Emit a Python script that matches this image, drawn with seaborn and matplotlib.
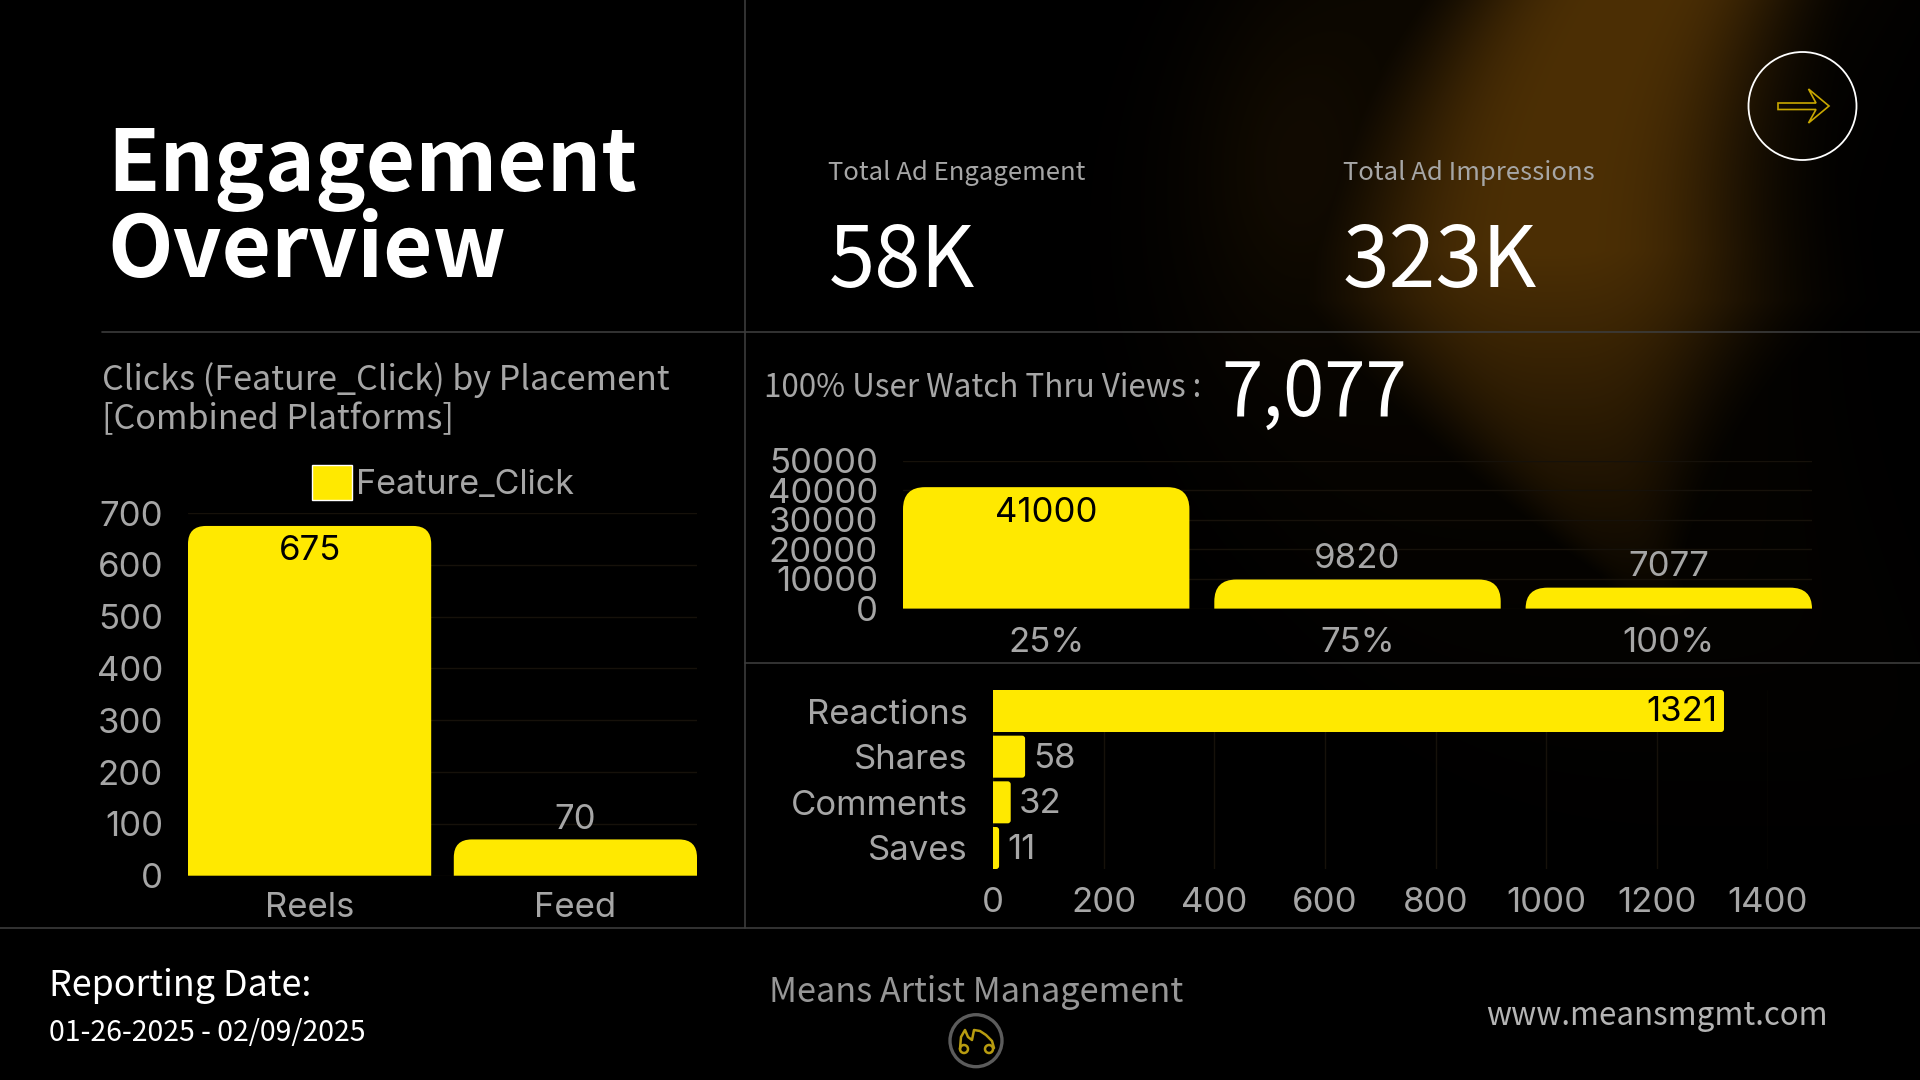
import numpy as np
import pandas as pd
import matplotlib
matplotlib.use('Agg')
import matplotlib.pyplot as plt
import seaborn as sns
from matplotlib.patches import Circle, PathPatch, Polygon
from matplotlib.path import Path

placement_names = ['Reels', 'Feed']
placement_clicks = [675, 70]

watch_names = ['25%', '75%', '100%']
watch_views = [41000, 9820, 7077]

action_names = ['Reactions', 'Shares', 'Comments', 'Saves']
action_counts = [1321, 58, 32, 11]

W, H = 1920, 1080
YELLOW = '#ffe900'
GREY = '#a6a6a6'
GRID = '#16110a'
BODY = ['Noto Sans CJK JP', 'DejaVu Sans']
TICK = 'Inter'
TICK_SIZE = 25

sns.set_theme(style='dark', rc={
    'figure.facecolor': 'black',
    'axes.facecolor': 'none',
    'axes.grid': True,
    'grid.color': GRID,
    'grid.linewidth': 1,
    'xtick.color': GREY,
    'ytick.color': GREY,
    'xtick.bottom': False,
    'ytick.left': False,
})
plt.rcParams['font.family'] = [TICK, 'DejaVu Sans']


def px_axes(fig, left, top, right, bottom):
    return fig.add_axes([left / W, 1 - bottom / H, (right - left) / W, (bottom - top) / H])


def round_bar(ax, bar, radius, horizontal=False):
    # swap a seaborn rectangle for one with rounded outer corners
    x0, y0, w, h = bar.get_x(), bar.get_y(), bar.get_width(), bar.get_height()
    sx = ax.transData.transform((1, 0))[0] - ax.transData.transform((0, 0))[0]
    sy = abs(ax.transData.transform((0, 1))[1] - ax.transData.transform((0, 0))[1])
    x1, y1 = x0 + w, y0 + h
    if horizontal:
        y0, y1 = min(y0, y1), max(y0, y1)
        rx = min(radius / sx, abs(w))
        ry = radius / sy
        verts = [(x0, y0), (x1 - rx, y0), (x1, y0), (x1, y0 + ry), (x1, y1 - ry),
                 (x1, y1), (x1 - rx, y1), (x0, y1), (x0, y0)]
    else:
        rx = radius / sx
        ry = min(radius / sy, h)
        verts = [(x0, y0), (x0, y1 - ry), (x0, y1), (x0 + rx, y1), (x1 - rx, y1),
                 (x1, y1), (x1, y1 - ry), (x1, y0), (x0, y0)]
    codes = [Path.MOVETO, Path.LINETO, Path.CURVE3, Path.CURVE3, Path.LINETO,
             Path.CURVE3, Path.CURVE3, Path.LINETO, Path.CLOSEPOLY]
    ax.add_patch(PathPatch(Path(verts, codes), fc=YELLOW, ec='none', zorder=2))
    bar.set_visible(False)


def clean(ax):
    sns.despine(ax=ax, left=True, bottom=True)
    ax.set_xlabel('')
    ax.set_ylabel('')
    ax.set_axisbelow(True)


fig = plt.figure(figsize=(W / 100, H / 100), dpi=100)

# background glow
bg = fig.add_axes([0, 0, 1, 1], zorder=-2)
yy, xx = np.mgrid[0:H, 0:W]
centre = 1625 - 0.55 * yy + 0.001 * yy ** 2
width = 165 + 0.13 * np.minimum(yy, 300) - 0.6 * np.clip(yy - 300, 0, None)
width = np.clip(width, 40, None)
fade = np.clip((640 - yy) / 390, 0, 1)
glow = np.exp(-np.abs((xx - centre) / width) ** 3) * fade
halo = 0.16 * np.exp(-((xx - centre + 70) / 320) ** 4) * np.clip(1 - yy / 900, 0, 1)
blob = 0.12 * np.exp(-((xx - 1290) / 90) ** 2 - ((yy - 170) / 150) ** 2)
mix = np.clip(np.maximum(glow, halo + blob), 0, 1)[..., None]
bg.imshow(mix * np.array([76, 47, 5]) / 255, aspect='auto', extent=(0, W, H, 0))
bg.axis('off')

# left chart
placement = pd.DataFrame({'placement': placement_names, 'clicks': placement_clicks})
ax1 = px_axes(fig, 188, 513, 697, 875.7)
w1 = 0.915
sns.barplot(data=placement, x='placement', y='clicks', color=YELLOW, saturation=1,
            width=w1, label='Feature_Click', ax=ax1)
ax1.set_xlim(-w1 / 2, 1 + w1 / 2)
ax1.set_ylim(0, 700)
ax1.set_yticks(range(0, 701, 100))
clean(ax1)
ax1.tick_params(axis='y', labelsize=TICK_SIZE, pad=12)
ax1.tick_params(axis='x', labelsize=TICK_SIZE, pad=6)
ax1.xaxis.grid(False)
fig.canvas.draw()
ax1.legend(loc='center left', bbox_to_anchor=(312 / W, 1 - 483 / H), bbox_transform=fig.transFigure,
           frameon=False, fontsize=24.5, labelcolor=GREY, handlelength=1.18, handleheight=1.18,
           handletextpad=0.12, borderpad=0, borderaxespad=0)
for bar in list(ax1.patches):
    round_bar(ax1, bar, 18)
ax1.annotate(str(placement_clicks[0]), (0, placement_clicks[0]), xytext=(0, -25), textcoords='offset pixels',
             ha='center', va='center', fontsize=TICK_SIZE, color='black', zorder=3)
ax1.annotate(str(placement_clicks[1]), (1, placement_clicks[1]), xytext=(0, 19), textcoords='offset pixels',
             ha='center', va='center', fontsize=TICK_SIZE, color=GREY, zorder=3)

# watch through chart
watch = pd.DataFrame({'mark': watch_names, 'views': watch_views})
ax2 = px_axes(fig, 903, 460.5, 1812, 608.6)
w2 = 0.92
sns.barplot(data=watch, x='mark', y='views', color=YELLOW, saturation=1, width=w2, ax=ax2)
ax2.set_xlim(-w2 / 2, 2 + w2 / 2)
ax2.set_ylim(0, 50000)
ax2.set_yticks(range(0, 50001, 10000))
clean(ax2)
ax2.tick_params(axis='y', labelsize=TICK_SIZE, pad=12)
ax2.tick_params(axis='x', labelsize=TICK_SIZE, pad=7)
ax2.xaxis.grid(False)
for bar in list(ax2.patches):
    round_bar(ax2, bar, 22)
ax2.annotate(str(watch_views[0]), (0, watch_views[0]), xytext=(0, -26), textcoords='offset pixels',
             ha='center', va='center', fontsize=TICK_SIZE, color='black', zorder=3)
for i in (1, 2):
    ax2.annotate(str(watch_views[i]), (i, watch_views[i]), xytext=(0, 21), textcoords='offset pixels',
                 ha='center', va='center', fontsize=TICK_SIZE, color=GREY, zorder=3)

# actions chart
actions = pd.DataFrame({'action': action_names, 'count': action_counts})
ax3 = px_axes(fig, 993, 690, 1767.7, 869)
w3 = 0.92
sns.barplot(data=actions, y='action', x='count', color=YELLOW, saturation=1, width=w3, orient='h', ax=ax3)
ax3.set_ylim(3 + w3 / 2, -w3 / 2)
ax3.set_xlim(0, 1400)
ax3.set_xticks(range(0, 1401, 200))
clean(ax3)
ax3.tick_params(axis='y', labelsize=TICK_SIZE, pad=12)
ax3.tick_params(axis='x', labelsize=TICK_SIZE, pad=7)
ax3.yaxis.grid(False)
for bar in list(ax3.patches):
    round_bar(ax3, bar, 3, horizontal=True)
ax3.annotate(str(action_counts[0]), (action_counts[0], 0), xytext=(-7, -1), textcoords='offset pixels',
             ha='right', va='center', fontsize=TICK_SIZE, color='black', zorder=3)
for i in (1, 2, 3):
    ax3.annotate(str(action_counts[i]), (action_counts[i], i), xytext=(8, -2), textcoords='offset pixels',
                 ha='left', va='center', fontsize=TICK_SIZE, color=GREY, zorder=3)

# overlay in reference pixels for lines and text blocks
ov = fig.add_axes([0, 0, 1, 1], zorder=5, facecolor='none')
ov.set_xlim(0, W)
ov.set_ylim(H, 0)
ov.axis('off')
ov.plot([745, 745], [0, 928], color='#3c3c3c', lw=1.2)
ov.plot([102, W], [331.5, 331.5], color='#3c3c3c', lw=1.2)
ov.plot([745, W], [663, 663], color='#3c3c3c', lw=1.2)
ov.plot([0, W], [928, 928], color='#3c3c3c', lw=1.2)

ov.text(107, 191.5, 'Engagement', color='white', fontsize=61.3, fontweight='bold', family=BODY, va='baseline')
ov.text(107, 276.5, 'Overview', color='white', fontsize=61.3, fontweight='bold', family=BODY, va='baseline')

body = dict(family=BODY, va='center')
ov.text(828, 173.5, 'Total Ad Engagement', color=GREY, fontsize=18.5, **body)
ov.text(1343, 173.5, 'Total Ad Impressions', color=GREY, fontsize=18.5, **body)
ov.text(829, 287, '58K', color='white', fontsize=60, family=BODY, va='baseline')
ov.text(1343, 287, '323K', color='white', fontsize=60.5, family=BODY, va='baseline')
ov.text(102, 380.5, 'Clicks (Feature_Click) by Placement', color=GREY, fontsize=24.6, **body)
ov.text(102, 420, '[Combined Platforms]', color=GREY, fontsize=24.6, **body)
ov.text(764, 388, '100% User Watch Thru Views :', color=GREY, fontsize=22.6, **body)
ov.text(1221, 416, '7,077', color='white', fontsize=53.5, family=BODY, va='baseline')
ov.text(49, 986.5, 'Reporting Date:', color='white', fontsize=25.8, **body)
ov.text(49, 1032.5, '01-26-2025 - 02/09/2025', color='white', fontsize=20.5, **body)
ov.text(976, 992.5, 'Means Artist Management', color='#969696', fontsize=24.7, family=BODY, va='center', ha='center')
ov.text(1828, 1015.5, 'www.meansmgmt.com', color='#b4b4b4', fontsize=22.5, family=BODY, va='center', ha='right')

# arrow badge
ov.add_patch(Circle((1802.5, 106), 54, fc='none', ec='white', lw=1.3))
ov.add_patch(Polygon([(1778, 103), (1816, 103), (1808.5, 89), (1829, 106), (1808.5, 123), (1816, 109.5), (1778, 109.5)],
                     closed=True, fc='none', ec='#c9a800', lw=1.2))

# logo
ov.add_patch(Circle((976, 1040.7), 26, fc='none', ec='#5c5c5c', lw=2.4))
ov.add_patch(Circle((964, 1049), 4, fc='none', ec='#b89c10', lw=1.8))
ov.add_patch(Circle((989, 1049), 4, fc='none', ec='#b89c10', lw=1.8))
ov.plot([960, 961, 965, 968, 972, 974, 980, 986, 992, 994],
        [1049, 1037, 1030, 1037, 1040, 1030, 1031, 1035, 1041, 1048], color='#b89c10', lw=1.8)

fig.savefig('out.png', dpi=100, facecolor='black')
